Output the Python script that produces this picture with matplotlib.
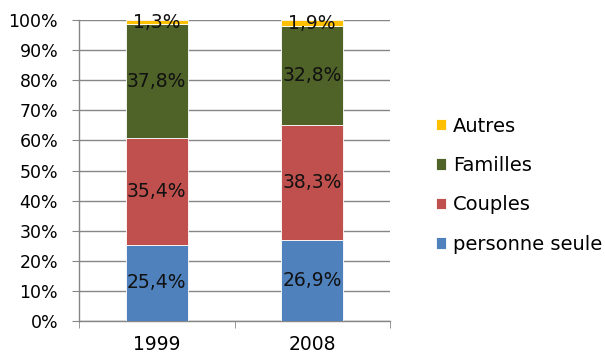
import matplotlib.pyplot as plt
import numpy as np

plt.rcParams['font.family'] = ['DejaVu Sans']

years = ['1999', '2008']
series = ['personne seule', 'Couples', 'Familles', 'Autres']
personne_seule = [25.4, 26.9]
couples = [35.4, 38.3]
familles = [37.8, 32.8]
autres = [1.3, 1.9]
colors = ['#4F81BD', '#C0504D', '#4F6228', '#FFC000']

values = [personne_seule, couples, familles, autres]

fig = plt.figure(figsize=(6.05, 3.56), dpi=100)
ax = fig.add_axes([79 / 605, 1 - 321 / 356, 311 / 605, 301 / 356])

x = np.arange(len(years))
bottom = np.zeros(len(years))
handles = []
for name, vals, col in zip(series, values, colors):
    vals = np.array(vals)
    b = ax.bar(x, vals, 0.4, bottom=bottom, color=col, edgecolor='white',
               linewidth=0.6, label=name, zorder=3)
    handles.append(b)
    for xi, v, b0 in zip(x, vals, bottom):
        ax.text(xi, b0 + v / 2, f'{v:.1f}%'.replace('.', ','), ha='center',
                va='center', fontsize=13.5, color='#111111', zorder=4)
    bottom += vals

ax.set_xlim(-0.5, 1.5)
ax.set_ylim(0, 100)
ax.set_yticks(np.arange(0, 101, 10))
ax.set_yticklabels([f'{t}%' for t in range(0, 101, 10)], fontsize=12.5)
ax.set_xticks(x)
ax.set_xticklabels(years, fontsize=13.5)
ax.set_xticks([-0.5, 0.5, 1.5], minor=True)
ax.tick_params(axis='x', which='major', length=0, pad=10)
ax.tick_params(axis='x', which='minor', length=5, color='#868686')
ax.tick_params(axis='y', length=5, color='#868686', pad=10)
ax.yaxis.grid(True, color='#868686', linewidth=1, zorder=0)
for s in ['top', 'right']:
    ax.spines[s].set_visible(False)
for s in ['left', 'bottom']:
    ax.spines[s].set_color('#868686')
    ax.spines[s].set_linewidth(1)

leg = fig.legend(handles[::-1], series[::-1], loc='upper left',
                 bbox_to_anchor=(418 / 605, 1 - 99 / 356), frameon=False,
                 fontsize=14, handlelength=0.55, handleheight=0.55,
                 handletextpad=0.35, labelspacing=1.05)

fig.savefig('out.png', dpi=100)
